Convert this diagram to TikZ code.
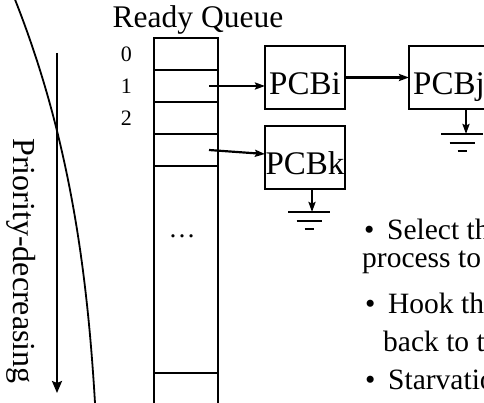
\documentclass[tikz,border=0pt]{standalone}
\usepackage{fontspec}
\setmainfont{Liberation Serif}
\usetikzlibrary{arrows.meta,positioning}

\newcommand{\itm}[1]{\makebox[23pt][l]{\textbullet}#1}

\begin{document}
\begin{tikzpicture}[
    x=1pt, y=-1pt,
    cell/.style={draw, line width=2.2pt, minimum width=64pt, minimum height=32pt, inner sep=0pt, outer sep=0pt},
    pcb/.style={draw, line width=2.2pt, minimum width=80pt, inner sep=0pt, outer sep=0pt, text height=49pt, text depth=14pt, font=\fontsize{33}{36}\selectfont},
    idx/.style={inner sep=0pt, font=\fontsize{22}{24}\selectfont},
    bul/.style={anchor=base west, inner sep=0pt, font=\fontsize{29.5}{32}\selectfont},
    arr/.style={-{Stealth[length=10pt,width=7pt,inset=1.5pt]}, line width=2.2pt},
    earth/.pic={
      \draw[line width=2.2pt] (-21,0) -- (21,0);
      \draw[line width=2.2pt] (-12.5,9) -- (12.5,9);
      \draw[line width=2.2pt] (-4.5,17) -- (4.5,17);
    }
  ]
    \useasboundingbox (0,0) rectangle (484,403);
    \clip (0,0) rectangle (484,403);

    % ready queue
    \node[anchor=base, inner sep=0pt, font=\fontsize{31.5}{33}\selectfont] (title) at (198,28) {Ready Queue};
    \node[cell] (c0) at (186,54) {};
    \node[cell, below=0pt of c0] (c1) {};
    \node[cell, below=0pt of c1] (c2) {};
    \node[cell, below=0pt of c2] (c3) {};
    \node[cell, below=0pt of c3, minimum height=207pt] (cmid) {};
    \node[cell, below=0pt of cmid, minimum height=40pt] (cend) {};
    \node[idx, left=22pt of c0] (i0) {0};
    \node[idx, left=22pt of c1] (i1) {1};
    \node[idx, left=22pt of c2] (i2) {2};
    \node[idx, font=\fontsize{27}{28}\selectfont] (dots) at (182,236) {…};

    % PCBs
    \node[pcb] (pcbi) at (305,77.5) {PCBi};
    \node[pcb, right=64pt of pcbi] (pcbj) {PCBj};
    \node[pcb, below=17pt of pcbi] (pcbk) {PCBk};

    \draw[arr] ([xshift=23pt]c1.center) -- (c1.center -| pcbi.west);
    \draw[arr] ([xshift=23pt]c3.center) -- ([yshift=-4pt]c3.center -| pcbk.west);
    \draw[arr] (pcbi) -- (pcbj);

    % ground
    \coordinate (gj) at ([xshift=17pt,yshift=-25pt]pcbj.south);
    \coordinate (gk) at ([xshift=7pt,yshift=-23pt]pcbk.south);
    \draw[arr] (pcbj.south -| gj) -- (gj);
    \draw[arr] (pcbk.south -| gk) -- (gk);
    \pic at ([xshift=-4pt]gj) {earth};
    \pic at ([xshift=-3pt]gk) {earth};

    % priority
    \coordinate (ptop) at (57,53);
    \coordinate (pbot) at (57,393);
    \draw[-{Stealth[length=12pt,width=10pt,inset=2pt]}, line width=2.2pt] (ptop) -- (pbot);
    \node[rotate=-90, inner sep=0pt, font=\fontsize{32}{34}\selectfont] (prio) at (21,261) {Priority-decreasing};
    \draw[line width=1.8pt] (14,-3) .. controls (69,135) and (87,268) .. (95,403);

    % notes
    \node[bul] (sel) at (364,240) {\itm{Select the}};
    \node[bul] (sel2) at (362,267) {process to};
    \node[bul] (hook) at (365,313) {\itm{Hook the}};
    \node[bul] (hook2) at (383,351) {back to the};
    \node[bul] (starv) at (365,389) {\itm{Starvation}};
  \end{tikzpicture}
\end{document}
